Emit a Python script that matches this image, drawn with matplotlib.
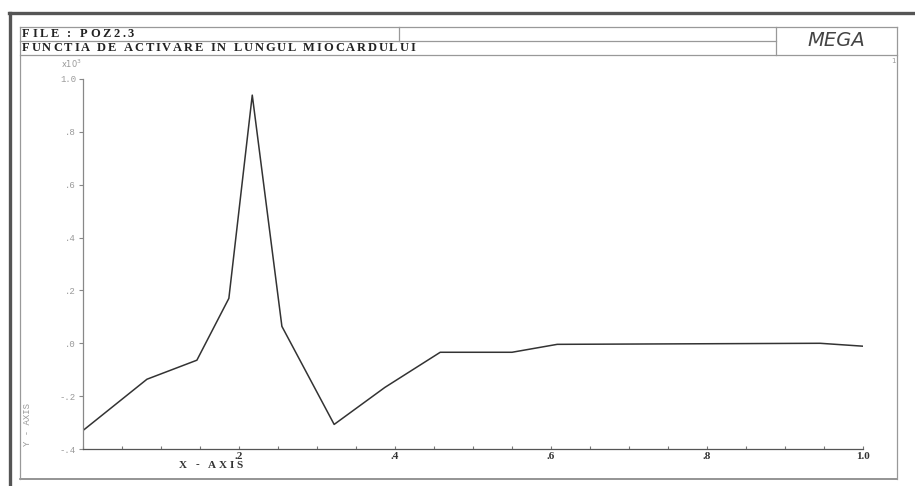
import matplotlib
matplotlib.use("Agg")
import matplotlib.pyplot as plt
from matplotlib.font_manager import FontProperties
from matplotlib.textpath import TextToPath
from matplotlib.lines import Line2D
from matplotlib.ticker import FuncFormatter, MultipleLocator

# activation function along the myocardium (y in units of 10^3)
x_pos = [0.0, 0.082, 0.146, 0.187, 0.217, 0.255, 0.322, 0.387, 0.458, 0.550, 0.608, 0.945, 1.0]
y_val = [-330, -136, -64, 170, 939, 64, -307, -167, -34, -34, -4, 0, -11]

y_ticks = [-400, -200, 0, 200, 400, 600, 800, 1000]
x_ticks = [0.2, 0.4, 0.6, 0.8, 1.0]

W, H = 915, 486
fig = plt.figure(figsize=(W / 100, H / 100), dpi=100)

def fx(x):
    return x / W

def fy(y):
    return 1 - y / H

def hline(x0, x1, y, **kw):
    fig.add_artist(Line2D([fx(x0), fx(x1)], [fy(y), fy(y)], transform=fig.transFigure, **kw))

def vline(x, y0, y1, **kw):
    fig.add_artist(Line2D([fx(x), fx(x)], [fy(y0), fy(y1)], transform=fig.transFigure, **kw))

ttp = TextToPath()

def spaced(x0, x1, y, s, size, color="#222"):
    # letter spaced header text, stretched from x0 to x1
    fp = FontProperties(family="Liberation Serif", weight="bold", size=size)
    widths = []
    for ch in s:
        if ch == " ":
            widths.append(size * 0.3 * 100 / 72)
        else:
            w, h, d = ttp.get_text_width_height_descent(ch, fp, ismath=False)
            widths.append(w * 100 / 72)
    track = (x1 - x0 - sum(widths)) / (len(s) - 1)
    cx = x0
    for ch, w in zip(s, widths):
        if ch != " ":
            fig.text(fx(cx), fy(y), ch, fontproperties=fp, color=color,
                     ha="left", va="center")
        cx += w + track

# outer dark frame (left and top)
hline(9, W, 13, color="#555", lw=2.4)
vline(10, 13, H, color="#555", lw=2.4)

# inner light frame and header boxes
fr = dict(color="#999", lw=0.9)
hline(20, 897, 27, **fr)
hline(20, 897, 479, color="#777", lw=1.1)
vline(20, 27, 479, **fr)
vline(897, 27, 479, **fr)
hline(20, 776, 41, **fr)
hline(20, 897, 55, **fr)
vline(399, 27, 41, **fr)
vline(776, 27, 55, **fr)

spaced(22, 134, 34, "FILE : POZ2.3", 9)
spaced(22, 415, 48, "FUNCTIA DE ACTIVARE IN LUNGUL MIOCARDULUI", 9)
fig.text(fx(836), fy(41), "MEGA", fontsize=14, style="italic", weight="light",
         color="#444", family="DejaVu Sans", ha="center", va="center")
fig.text(fx(893), fy(61), "1", fontsize=5, color="#999", ha="center", va="center")

# plot area
ax = fig.add_axes([fx(83), fy(449), (863 - 83) / W, (449 - 79) / H])
ax.plot(x_pos, y_val, color="#333", lw=1.1)
ax.set_xlim(0, 1.0)
ax.set_ylim(-400, 1000)
for s in ["top", "right"]:
    ax.spines[s].set_visible(False)
ax.spines["left"].set_color("#888")
ax.spines["bottom"].set_color("#555")
ax.spines["left"].set_linewidth(0.9)
ax.spines["bottom"].set_linewidth(0.9)

ax.set_yticks(y_ticks)
def yfmt(v, pos):
    s = "%.1f" % (v / 1000)
    return s.replace("0.", ".") if abs(v) < 1000 else s
ax.yaxis.set_major_formatter(FuncFormatter(yfmt))
ax.tick_params(axis="y", direction="out", length=3, width=0.8, color="#888",
               labelsize=6.5, labelcolor="#999", pad=2)
for lab in ax.get_yticklabels():
    lab.set_family("Liberation Mono")

ax.set_xticks(x_ticks)
ax.xaxis.set_minor_locator(MultipleLocator(0.05))
ax.set_xticklabels([".2", ".4", ".6", ".8", "1.0"])
ax.tick_params(axis="x", which="both", direction="in", length=2, width=0.8,
               color="#777", labelsize=8, labelcolor="#333", pad=2)
for lab in ax.get_xticklabels():
    lab.set_family("Liberation Serif")
    lab.set_weight("bold")

fig.text(fx(72), fy(64), "x10$^3$", fontsize=6, color="#999", ha="center", va="center")
spaced(179, 243, 465, "X - AXIS", 8, color="#333")
fig.text(fx(28), fy(424), "Y - AXIS", fontsize=6.5, color="#999", rotation=90,
         family="Liberation Mono", ha="center", va="center")

fig.savefig("out.png", dpi=100, facecolor="white")
